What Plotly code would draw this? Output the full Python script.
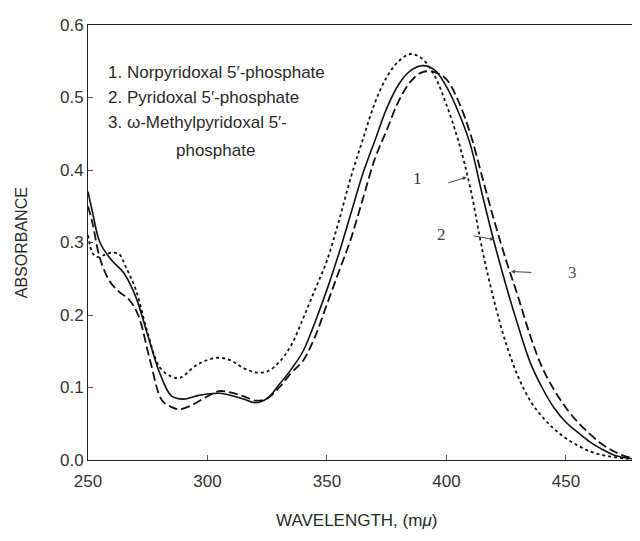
import plotly.graph_objects as go

# Wavelength grid (mμ)
wl_norpyridoxal = [250, 252, 255, 260, 265, 270, 275, 280, 285, 290, 295, 300, 305, 310, 315, 320, 325, 330, 335,
                   340, 345, 350, 355, 360, 365, 370, 375, 380, 385, 390, 395, 400, 405, 410, 415, 420, 425, 430,
                   435, 440, 445, 450, 455, 460, 465, 470, 475, 480]
abs_norpyridoxal = [0.37, 0.34, 0.30, 0.275, 0.258, 0.225, 0.172, 0.12, 0.088, 0.084, 0.088, 0.091, 0.092, 0.089,
                    0.084, 0.079, 0.085, 0.104, 0.125, 0.150, 0.19, 0.235, 0.285, 0.34, 0.395, 0.44, 0.485, 0.518,
                    0.537, 0.544, 0.538, 0.515, 0.48, 0.435, 0.366, 0.30, 0.24, 0.185, 0.135, 0.10, 0.072, 0.052,
                    0.038, 0.025, 0.015, 0.007, 0.003, 0.001]

wl_pyridoxal = [250, 252, 254, 257, 260, 263, 266, 270, 275, 280, 285, 288, 290, 295, 300, 305, 310, 315, 320, 325,
                330, 335, 340, 345, 350, 355, 360, 365, 370, 375, 380, 385, 390, 395, 400, 405, 410, 415, 420, 425,
                430, 435, 440, 445, 450, 455, 460, 465, 470, 475, 480]
abs_pyridoxal = [0.31, 0.285, 0.28, 0.283, 0.286, 0.284, 0.265, 0.235, 0.175, 0.128, 0.115, 0.113, 0.116, 0.13,
                 0.138, 0.141, 0.137, 0.127, 0.121, 0.122, 0.135, 0.158, 0.195, 0.235, 0.275, 0.33, 0.39, 0.442,
                 0.492, 0.528, 0.55, 0.56, 0.553, 0.53, 0.49, 0.44, 0.375, 0.29, 0.219, 0.16, 0.115, 0.082, 0.06,
                 0.043, 0.03, 0.02, 0.012, 0.007, 0.004, 0.002, 0.001]

wl_methyl = [250, 252, 255, 259, 263, 267, 271, 276, 281, 285, 288, 293, 300, 305, 310, 315, 320, 325, 330, 335, 340,
             345, 350, 355, 360, 365, 370, 375, 380, 385, 390, 395, 400, 405, 410, 415, 420, 425, 430, 435, 440,
             445, 450, 455, 460, 465, 470, 475, 480]
abs_methyl = [0.35, 0.325, 0.278, 0.247, 0.232, 0.222, 0.2, 0.137, 0.082, 0.073, 0.07, 0.075, 0.088, 0.095, 0.093,
              0.088, 0.082, 0.085, 0.1, 0.12, 0.137, 0.17, 0.215, 0.26, 0.305, 0.36, 0.415, 0.455, 0.495, 0.522,
              0.535, 0.535, 0.525, 0.495, 0.45, 0.39, 0.33, 0.275, 0.225, 0.172, 0.128, 0.097, 0.072, 0.052, 0.036,
              0.022, 0.012, 0.005, 0.002]

x_ticks = [250, 300, 350, 400, 450]
y_ticks = [0.0, 0.1, 0.2, 0.3, 0.4, 0.5, 0.6]
y_tick_labels = ["0.0", "0.1", "0.2", "0.3", "0.4", "0.5", "0.6"]

legend_lines = ["1. Norpyridoxal 5′-phosphate",
                "2. Pyridoxal 5′-phosphate",
                "3. ω-Methylpyridoxal 5′-"]
legend_cont = "phosphate"

FONT = "Liberation Sans, Arial, sans-serif"
SERIF = "Liberation Serif, DejaVu Serif, serif"
INK = "#111111"
TXT = "#2a2a2a"

fig = go.Figure()
fig.add_trace(go.Scatter(x=wl_norpyridoxal, y=abs_norpyridoxal, mode="lines", line_shape="spline",
                         line=dict(color=INK, width=1.6, dash="solid"), name="1"))
fig.add_trace(go.Scatter(x=wl_pyridoxal, y=abs_pyridoxal, mode="lines", line_shape="spline",
                         line=dict(color=INK, width=1.8, dash="3px,3px"), name="2"))
fig.add_trace(go.Scatter(x=wl_methyl, y=abs_methyl, mode="lines", line_shape="spline",
                         line=dict(color=INK, width=1.8, dash="9px,4px"), name="3"))

ann = []
# legend block
ys = [0.535, 0.5, 0.465]
for t, yv in zip(legend_lines, ys):
    ann.append(dict(x=257.5, y=yv, xref="x", yref="y", text=t, showarrow=False, xanchor="left",
                    font=dict(family=FONT, size=17, color=TXT)))
ann.append(dict(x=303.5, y=0.427, xref="x", yref="y", text=legend_cont, showarrow=False, xanchor="center",
                font=dict(family=FONT, size=17, color=TXT)))

# curve labels
ann.append(dict(x=387.7, y=0.388, text="1", showarrow=False, font=dict(family=SERIF, size=17, color="#333")))
ann.append(dict(x=408.5, y=0.390, ax=-20, ay=6, text="", showarrow=True, arrowhead=2, arrowsize=0.8,
                arrowwidth=1, arrowcolor="#444"))
ann.append(dict(x=398.1, y=0.311, text="2", showarrow=False, font=dict(family=SERIF, size=17, color="#444")))
ann.append(dict(x=420.0, y=0.304, ax=-22, ay=-4, text="", showarrow=True, arrowhead=2, arrowsize=0.8,
                arrowwidth=1, arrowcolor="#444"))
ann.append(dict(x=452.8, y=0.258, text="3", showarrow=False, font=dict(family=SERIF, size=17, color="#555")))
ann.append(dict(x=427.0, y=0.260, ax=22, ay=1, text="", showarrow=True, arrowhead=2, arrowsize=0.8,
                arrowwidth=1, arrowcolor="#444"))

# axis titles
ann.append(dict(x=362.5, y=-0.139, xref="x", yref="paper", text="WAVELENGTH, (m<i>μ</i>)", showarrow=False,
                xanchor="center", yanchor="middle", font=dict(family=FONT, size=17, color=TXT)))
ann.append(dict(x=-0.12, y=0.5, xref="paper", yref="paper", text="ABSORBANCE", showarrow=False, textangle=-90,
                xanchor="center", yanchor="middle", font=dict(family=FONT, size=16, color=TXT)))

fig.update_layout(
    width=640, height=541,
    margin=dict(l=80, r=8, t=14, b=89),
    paper_bgcolor="white", plot_bgcolor="white",
    showlegend=False,
    annotations=ann,
    font=dict(family=FONT, size=17, color=TXT),
)
fig.update_xaxes(range=[250, 481], tickvals=x_ticks, ticktext=[str(v) for v in x_ticks],
                 showgrid=False, zeroline=False, showline=True, linecolor="#222", linewidth=1, mirror=True,
                 ticks="inside", ticklen=5, tickcolor="#555", ticklabelstandoff=6,
                 tickfont=dict(family=FONT, size=17, color="#333"))
fig.update_yaxes(range=[0, 0.6], tickvals=y_ticks, ticktext=y_tick_labels,
                 showgrid=False, zeroline=False, showline=True, linecolor="#222", linewidth=1,
                 ticks="inside", ticklen=5, tickcolor="#555",
                 tickfont=dict(family=FONT, size=17, color="#333"))

fig.write_html("out.html")
